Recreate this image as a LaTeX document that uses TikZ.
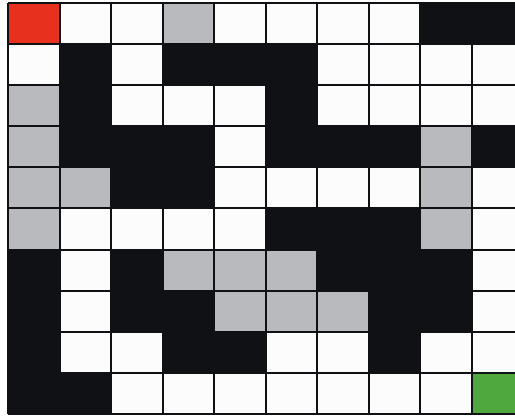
\documentclass[tikz,border=0pt]{standalone}
\definecolor{mazeblack}{RGB}{16,17,20}
\definecolor{mazegray}{RGB}{185,186,190}
\definecolor{mazered}{RGB}{232,48,30}
\definecolor{mazegreen}{RGB}{78,168,62}
\definecolor{mazewhite}{RGB}{252,252,253}
\tikzset{
  cellW/.style={fill=mazewhite},
  cellB/.style={fill=mazeblack},
  cellG/.style={fill=mazegray},
  cellR/.style={fill=mazered},
  cellN/.style={fill=mazegreen},
  gridline/.style={draw=mazeblack,line width=2pt}
}
\begin{document}
\begin{tikzpicture}[x=1pt,y=-1pt]
\useasboundingbox (0,0) rectangle (515,419);
\fill[white] (0,0) rectangle (515,419);
\def\cw{51.5}
\def\ch{41.1}
\foreach \r/\rowcells in {
 0/{R,W,W,G,W,W,W,W,B,B},
 1/{W,B,W,B,B,B,W,W,W,W},
 2/{G,B,W,W,W,B,W,W,W,W},
 3/{G,B,B,B,W,B,B,B,G,B},
 4/{G,G,B,B,W,W,W,W,G,W},
 5/{G,W,W,W,W,B,B,B,G,W},
 6/{B,W,B,G,G,G,B,B,B,W},
 7/{B,W,B,B,G,G,G,B,B,W},
 8/{B,W,W,B,B,W,W,B,W,W},
 9/{B,B,W,W,W,W,W,W,W,N}}{
  \foreach \t [count=\c from 0] in \rowcells {
    \path[cell\t] ({8+\c*\cw},{3+\r*\ch}) rectangle ({8+(\c+1)*\cw},{3+(\r+1)*\ch});
  }
}
\foreach \i in {0,...,10} {
  \draw[gridline] ({8+\i*\cw},3) -- ({8+\i*\cw},{3+10*\ch});
  \draw[gridline] (8,{3+\i*\ch}) -- ({8+10*\cw},{3+\i*\ch});
}
\end{tikzpicture}
\end{document}
